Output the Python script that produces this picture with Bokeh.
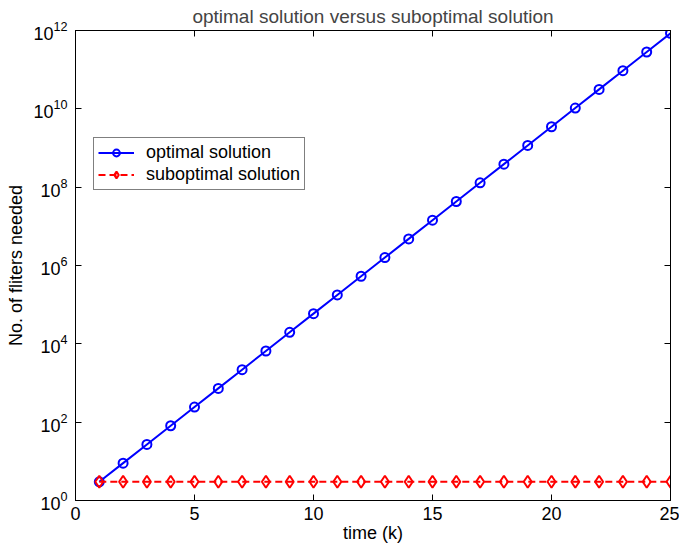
from bokeh.plotting import figure
from bokeh.models import (Range1d, FixedTicker, LinearAxis, LogAxis, Legend, LegendItem,
                          LogTickFormatter, CustomJSTickFormatter)
from bokeh.embed import file_html
from bokeh.resources import INLINE

# number of filters per time step
time_k = list(range(1, 26))
optimal = [3, 9, 27, 81, 243, 729, 2187, 6561, 19683, 59049, 177147, 531441,
           1594323, 4782969, 14348907, 43046721, 129140163, 387420489,
           1162261467, 3486784401, 10460353203, 31381059609, 94143178827,
           282429536481, 847288609443]
suboptimal = [3, 3, 3, 3, 3, 3, 3, 3, 3, 3, 3, 3, 3, 3, 3, 3, 3, 3, 3, 3, 3, 3, 3, 3, 3]

x_ticks = [0, 5, 10, 15, 20, 25]
y_ticks = [1e0, 1e2, 1e4, 1e6, 1e8, 1e10, 1e12]

FONT = "Liberation Sans"

p = figure(width=679, height=549, y_axis_type="log",
           x_range=Range1d(0, 25), y_range=Range1d(1, 1e12),
           output_backend="svg", toolbar_location=None,
           title="optimal solution versus suboptimal solution",
           min_border_left=75, min_border_right=9, min_border_top=4,
           min_border_bottom=49)

p.title.text_font = FONT
p.title.text_font_size = "19px"
p.title.text_font_style = "normal"
p.title.align = "center"
p.title.offset = 0
p.title.standoff = 7

p.grid.visible = False
p.outline_line_color = "black"
p.outline_line_width = 1
p.background_fill_color = "white"
p.border_fill_color = "white"

blank = CustomJSTickFormatter(code="return ''")

def style_axis(ax):
    ax.axis_line_color = "black"
    ax.major_tick_line_color = "black"
    ax.major_tick_in = 6
    ax.major_tick_out = 0
    ax.minor_tick_in = 0
    ax.minor_tick_out = 0
    ax.major_label_text_font = FONT
    ax.major_label_text_font_size = "18px"
    ax.major_label_text_color = "black"
    ax.axis_label_text_font = FONT
    ax.axis_label_text_font_size = "18px"
    ax.axis_label_text_font_style = "normal"
    ax.axis_label_text_color = "black"

xa = p.xaxis[0]
xa.ticker = FixedTicker(ticks=x_ticks)
xa.axis_label = "time (k)"
xa.axis_label_standoff = 0
xa.major_label_standoff = 6
style_axis(xa)

ya = p.yaxis[0]
ya.ticker = FixedTicker(ticks=y_ticks)
ya.formatter = LogTickFormatter()
ya.axis_label = "No. of fliters needed"
ya.axis_label_standoff = 4
ya.major_label_standoff = 8
style_axis(ya)

top = LinearAxis(ticker=FixedTicker(ticks=x_ticks), formatter=blank,
                 major_label_standoff=0)
style_axis(top)
p.add_layout(top, "above")

right = LogAxis(ticker=FixedTicker(ticks=y_ticks), formatter=blank,
                major_label_standoff=0)
style_axis(right)
p.add_layout(right, "right")

l1 = p.line(time_k, optimal, line_color="#0000ff", line_width=2)
m1 = p.scatter(time_k, optimal, marker="circle", size=9, line_color="#0000ff",
               line_width=2, fill_color=None)
l2 = p.line(time_k, suboptimal, line_color="#ff0000", line_width=2, line_dash="7 4")
m2 = p.scatter(time_k, suboptimal, marker="diamond", size=12, line_color="#ff0000",
               line_width=2, fill_color=None)

legend = Legend(items=[LegendItem(label="optimal solution", renderers=[l1, m1]),
                       LegendItem(label="suboptimal solution", renderers=[l2, m2])],
                location=(18, 310))
legend.border_line_color = "black"
legend.border_line_width = 1
legend.label_text_font = FONT
legend.label_text_font_size = "18px"
legend.label_text_color = "black"
legend.glyph_width = 36
legend.glyph_height = 17
legend.label_height = 17
legend.spacing = 1
legend.padding = 4
legend.margin = 0
legend.label_standoff = 12
p.add_layout(legend, "center")

open("out.html", "w").write(file_html(p, INLINE))
